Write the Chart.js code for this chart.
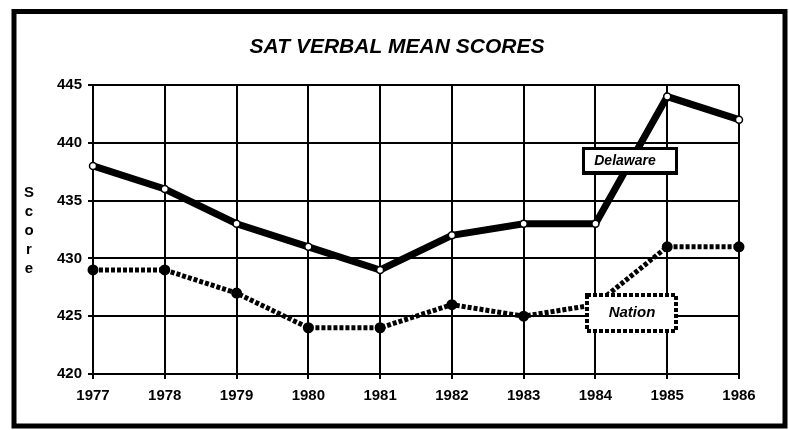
<!DOCTYPE html>
<html>
<head>
<meta charset="utf-8">
<script src="https://cdn.jsdelivr.net/npm/chart.js@4.4.1/dist/chart.umd.min.js"></script>
<style>
  html, body { margin: 0; padding: 0; background: #fff; }
  #wrap { width: 789px; height: 430px; }
</style>
</head>
<body>
<div id="wrap"><canvas id="satChart" width="789" height="430"></canvas></div>
<script>
const years = ['1977', '1978', '1979', '1980', '1981', '1982', '1983', '1984', '1985', '1986'];
const delaware = [438, 436, 433, 431, 429, 432, 433, 433, 444, 442];
const nation = [429, 429, 427, 424, 424, 426, 425, 426, 431, 431];
const yTicks = [420, 425, 430, 435, 440, 445];

const FONT = '"Liberation Sans", Arial, Helvetica, sans-serif';

// marco, titulo y etiquetas de las series
const decorations = {
    id: 'decorations',
    beforeDraw(chart) {
        const c = chart.ctx;
        c.save();
        c.fillStyle = '#fff';
        c.fillRect(0, 0, chart.width, chart.height);
        c.restore();
    },
    afterDraw(chart) {
        const c = chart.ctx;
        c.save();

        // marco exterior
        c.strokeStyle = '#000';
        c.lineWidth = 5;
        c.strokeRect(14, 11.5, 771, 414.5);

        // titulo
        c.fillStyle = '#000';
        c.font = 'italic bold 21px ' + FONT;
        c.textAlign = 'center';
        c.textBaseline = 'middle';
        c.fillText('SAT VERBAL MEAN SCORES', 397, 47);

        // titulo del eje y, letras apiladas
        c.font = 'bold 15px ' + FONT;
        'Score'.split('').forEach((ch, i) => {
            c.fillText(ch, 29, 193 + i * 19);
        });

        // etiqueta Delaware
        c.fillStyle = '#fff';
        c.fillRect(582, 147, 96, 28);
        c.lineWidth = 3;
        c.strokeStyle = '#000';
        c.strokeRect(583.5, 148.5, 93, 24);
        c.lineWidth = 4;
        c.beginPath();
        c.moveTo(582, 173);
        c.lineTo(678, 173);
        c.stroke();
        c.fillStyle = '#000';
        c.font = 'italic bold 14px ' + FONT;
        c.fillText('Delaware', 625, 161);

        // etiqueta Nation
        c.fillStyle = '#fff';
        c.fillRect(585, 293, 93, 40);
        c.setLineDash([4, 2]);
        c.lineWidth = 4;
        c.strokeRect(587, 295, 89, 36);
        c.setLineDash([]);
        c.fillStyle = '#000';
        c.font = 'italic bold 15px ' + FONT;
        c.fillText('Nation', 632, 313);

        c.restore();
    }
};

new Chart(document.getElementById('satChart'), {
    type: 'line',
    data: {
        labels: years,
        datasets: [
            {
                label: 'Delaware',
                data: delaware,
                borderColor: '#000',
                borderWidth: 7,
                pointRadius: 3.5,
                pointBackgroundColor: '#fff',
                pointBorderColor: '#000',
                pointBorderWidth: 1.5,
                tension: 0
            },
            {
                label: 'Nation',
                data: nation,
                borderColor: '#000',
                borderWidth: 5,
                borderDash: [4, 2],
                pointRadius: 3,
                pointBackgroundColor: '#000',
                pointBorderColor: '#000',
                tension: 0
            }
        ]
    },
    options: {
        responsive: false,
        animation: false,
        layout: {
            padding: { top: 85, right: 50, left: 0, bottom: 0 }
        },
        plugins: {
            legend: { display: false },
            title: { display: false },
            tooltip: { enabled: false }
        },
        scales: {
            x: {
                offset: false,
                afterFit: (axis) => { axis.height = 56; },
                grid: {
                    color: '#000',
                    lineWidth: 2,
                    tickLength: 5
                },
                border: { color: '#000', width: 2 },
                ticks: {
                    color: '#000',
                    padding: 8,
                    maxRotation: 0,
                    font: { family: FONT, size: 15, weight: 'bold' }
                }
            },
            y: {
                min: 420,
                max: 445,
                afterFit: (axis) => { axis.width = 93; },
                afterBuildTicks: (axis) => {
                    axis.ticks = yTicks.map(v => ({ value: v }));
                },
                grid: {
                    color: '#000',
                    lineWidth: 2,
                    tickLength: 5
                },
                border: { color: '#000', width: 2 },
                ticks: {
                    color: '#000',
                    padding: 6,
                    font: { family: FONT, size: 15, weight: 'bold' }
                }
            }
        }
    },
    plugins: [decorations]
});
</script>
</body>
</html>
